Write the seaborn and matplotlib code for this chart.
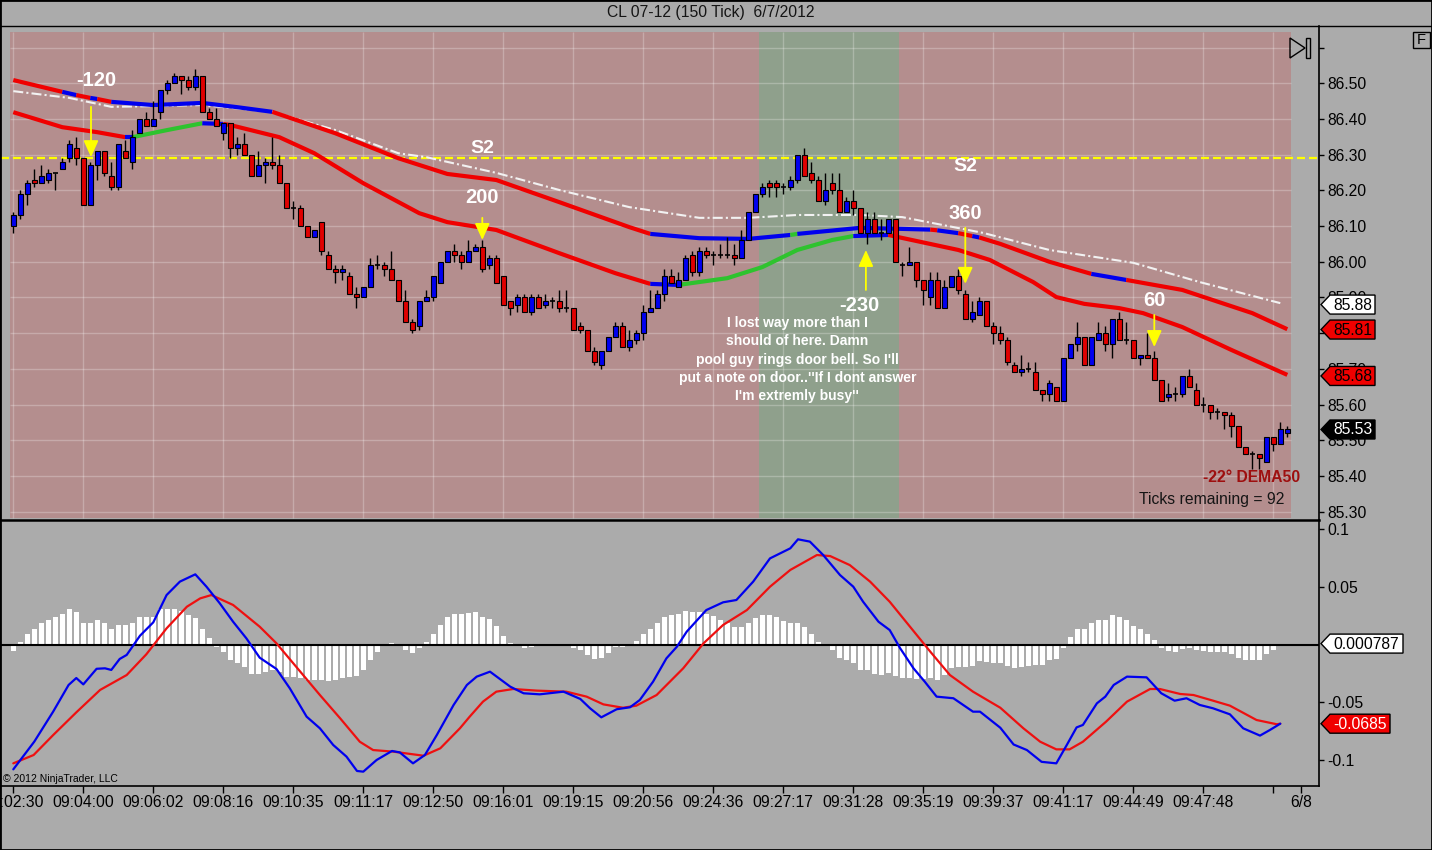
import numpy as np
import pandas as pd
import seaborn as sns
import matplotlib.pyplot as plt
import matplotlib.transforms as mtransforms
from matplotlib.patches import Polygon, Rectangle
from matplotlib.lines import Line2D

#%% Data: CL 07-12, 150 tick bars, 6/7/2012
open_ = [
    86.10, 86.13, 86.19, 86.23, 86.22, 86.23, 86.25, 86.26, 86.29, 86.32,
    86.29, 86.16, 86.27, 86.31, 86.24, 86.21, 86.31, 86.28, 86.36, 86.40,
    86.38, 86.42, 86.48, 86.50, 86.52, 86.51, 86.49, 86.52, 86.42, 86.40,
    86.36, 86.39, 86.32, 86.33, 86.30, 86.24, 86.27, 86.28, 86.27, 86.22,
    86.15, 86.15, 86.10, 86.07, 86.11, 86.02, 85.98, 85.97, 85.96, 85.91,
    85.90, 85.93, 85.99, 85.99, 85.98, 85.95, 85.89, 85.83, 85.82, 85.89,
    85.90, 85.94, 86.00, 86.03, 86.02, 86.00, 86.03, 86.04, 85.99, 86.01,
    85.96, 85.89, 85.88, 85.90, 85.86, 85.90, 85.88, 85.89, 85.89, 85.87,
    85.87, 85.82, 85.81, 85.75, 85.71, 85.75, 85.79, 85.82, 85.76, 85.78,
    85.80, 85.86, 85.87, 85.91, 85.96, 85.93, 85.95, 86.02, 85.97, 86.03,
    86.02, 86.02, 86.02, 86.02, 86.01, 86.06, 86.14, 86.19, 86.22, 86.22,
    86.21, 86.21, 86.23, 86.30, 86.25, 86.23, 86.17, 86.22, 86.20, 86.14,
    86.17, 86.15, 86.08, 86.12, 86.08, 86.08, 86.12, 85.99, 85.99, 86.00,
    85.95, 85.90, 85.95, 85.87, 85.93, 85.96, 85.91, 85.84, 85.85, 85.89,
    85.82, 85.80, 85.78, 85.71, 85.69, 85.70, 85.69, 85.64, 85.63, 85.65,
    85.61, 85.73, 85.77, 85.79, 85.71, 85.78, 85.80, 85.77, 85.84, 85.78,
    85.78, 85.73, 85.74, 85.73, 85.67, 85.62, 85.63, 85.63, 85.68, 85.64,
    85.60, 85.60, 85.58, 85.58, 85.57, 85.54, 85.48, 85.46, 85.46, 85.44,
    85.51, 85.49, 85.52]
high = [
    86.14, 86.20, 86.23, 86.26, 86.27, 86.26, 86.25, 86.29, 86.34, 86.35,
    86.29, 86.28, 86.31, 86.31, 86.28, 86.33, 86.34, 86.37, 86.40, 86.42,
    86.45, 86.48, 86.51, 86.53, 86.52, 86.52, 86.54, 86.52, 86.43, 86.43,
    86.39, 86.39, 86.35, 86.36, 86.30, 86.31, 86.29, 86.35, 86.30, 86.22,
    86.17, 86.16, 86.10, 86.09, 86.11, 86.03, 85.99, 85.99, 85.97, 85.93,
    85.93, 86.01, 86.02, 86.00, 86.03, 85.95, 85.92, 85.84, 85.89, 85.92,
    85.96, 86.00, 86.03, 86.05, 86.03, 86.06, 86.05, 86.06, 86.02, 86.02,
    85.96, 85.89, 85.91, 85.91, 85.91, 85.91, 85.91, 85.90, 85.92, 85.92,
    85.87, 85.83, 85.81, 85.76, 85.75, 85.79, 85.83, 85.83, 85.81, 85.81,
    85.88, 85.92, 85.92, 85.98, 85.98, 85.97, 86.02, 86.03, 86.04, 86.04,
    86.03, 86.05, 86.07, 86.05, 86.09, 86.14, 86.19, 86.22, 86.23, 86.23,
    86.22, 86.24, 86.30, 86.32, 86.28, 86.24, 86.25, 86.25, 86.25, 86.18,
    86.20, 86.15, 86.14, 86.14, 86.12, 86.12, 86.12, 86.00, 86.04, 86.00,
    85.95, 85.97, 85.97, 85.95, 85.96, 85.98, 85.92, 85.89, 85.90, 85.89,
    85.83, 85.82, 85.79, 85.72, 85.74, 85.72, 85.72, 85.64, 85.67, 85.65,
    85.73, 85.77, 85.83, 85.79, 85.79, 85.83, 85.82, 85.84, 85.86, 85.83,
    85.78, 85.74, 85.80, 85.75, 85.67, 85.66, 85.65, 85.68, 85.70, 85.66,
    85.62, 85.60, 85.59, 85.58, 85.58, 85.54, 85.48, 85.47, 85.46, 85.51,
    85.51, 85.55, 85.54]
low = [
    86.08, 86.12, 86.16, 86.21, 86.22, 86.22, 86.20, 86.26, 86.28, 86.27,
    86.16, 86.16, 86.23, 86.24, 86.20, 86.20, 86.29, 86.26, 86.36, 86.38,
    86.38, 86.40, 86.47, 86.50, 86.47, 86.48, 86.48, 86.42, 86.40, 86.38,
    86.34, 86.29, 86.30, 86.30, 86.24, 86.24, 86.22, 86.26, 86.22, 86.15,
    86.12, 86.10, 86.07, 86.07, 86.02, 85.98, 85.94, 85.95, 85.91, 85.87,
    85.90, 85.93, 85.98, 85.96, 85.95, 85.89, 85.83, 85.80, 85.81, 85.89,
    85.89, 85.94, 86.00, 86.00, 85.98, 86.00, 86.03, 85.97, 85.98, 85.94,
    85.88, 85.85, 85.86, 85.86, 85.85, 85.87, 85.87, 85.87, 85.86, 85.86,
    85.81, 85.80, 85.75, 85.71, 85.70, 85.75, 85.79, 85.76, 85.75, 85.77,
    85.78, 85.86, 85.87, 85.89, 85.94, 85.93, 85.95, 85.96, 85.96, 86.01,
    85.99, 86.01, 86.01, 85.99, 86.01, 86.06, 86.14, 86.18, 86.18, 86.18,
    86.19, 86.20, 86.22, 86.24, 86.22, 86.17, 86.16, 86.19, 86.14, 86.14,
    86.13, 86.08, 86.05, 86.08, 86.06, 86.08, 86.00, 85.96, 85.99, 85.93,
    85.88, 85.88, 85.87, 85.87, 85.93, 85.91, 85.84, 85.83, 85.85, 85.82,
    85.77, 85.77, 85.71, 85.69, 85.68, 85.69, 85.64, 85.61, 85.61, 85.61,
    85.61, 85.73, 85.75, 85.71, 85.71, 85.78, 85.75, 85.73, 85.78, 85.77,
    85.73, 85.71, 85.73, 85.67, 85.61, 85.61, 85.61, 85.62, 85.65, 85.60,
    85.58, 85.56, 85.56, 85.53, 85.51, 85.48, 85.46, 85.42, 85.42, 85.44,
    85.47, 85.49, 85.51]
close = [
    86.13, 86.19, 86.22, 86.22, 86.24, 86.25, 86.25, 86.28, 86.33, 86.29,
    86.16, 86.27, 86.31, 86.25, 86.21, 86.33, 86.29, 86.35, 86.40, 86.38,
    86.40, 86.48, 86.50, 86.52, 86.51, 86.49, 86.52, 86.42, 86.40, 86.38,
    86.39, 86.32, 86.33, 86.30, 86.24, 86.27, 86.28, 86.27, 86.22, 86.15,
    86.15, 86.10, 86.07, 86.09, 86.03, 85.98, 85.97, 85.98, 85.91, 85.90,
    85.93, 85.99, 85.99, 85.98, 85.95, 85.89, 85.83, 85.81, 85.89, 85.90,
    85.96, 86.00, 86.03, 86.02, 86.00, 86.03, 86.04, 85.98, 86.01, 85.94,
    85.88, 85.87, 85.90, 85.86, 85.90, 85.87, 85.89, 85.89, 85.87, 85.87,
    85.81, 85.81, 85.75, 85.72, 85.75, 85.79, 85.82, 85.76, 85.78, 85.80,
    85.86, 85.87, 85.91, 85.96, 85.94, 85.95, 86.01, 85.97, 86.03, 86.02,
    86.02, 86.02, 86.02, 86.01, 86.06, 86.14, 86.19, 86.21, 86.21, 86.21,
    86.21, 86.23, 86.30, 86.24, 86.23, 86.17, 86.20, 86.20, 86.14, 86.17,
    86.15, 86.08, 86.12, 86.08, 86.08, 86.12, 86.00, 85.99, 86.00, 85.95,
    85.92, 85.95, 85.87, 85.93, 85.96, 85.92, 85.84, 85.86, 85.89, 85.82,
    85.80, 85.78, 85.72, 85.69, 85.70, 85.70, 85.64, 85.63, 85.66, 85.61,
    85.73, 85.77, 85.79, 85.71, 85.79, 85.80, 85.77, 85.84, 85.78, 85.78,
    85.73, 85.74, 85.73, 85.67, 85.61, 85.63, 85.63, 85.68, 85.65, 85.60,
    85.60, 85.58, 85.58, 85.57, 85.54, 85.48, 85.46, 85.46, 85.45, 85.51,
    85.49, 85.53, 85.53]

# moving averages read at knots (bar index, price); colour of each following segment
dema_bar = [0, 7, 9, 11, 12, 14, 20, 27, 32, 37, 46, 55, 62, 69, 78, 88, 91, 98, 105, 111,
            112, 121, 131, 132, 135, 137, 138, 141, 148, 154, 159, 167, 177, 182]
dema_val = [86.509, 86.476, 86.467, 86.459, 86.456, 86.448, 86.439, 86.445, 86.433, 86.420,
            86.360, 86.290, 86.246, 86.229, 86.167, 86.097, 86.078, 86.066, 86.064, 86.075,
            86.078, 86.095, 86.090, 86.088, 86.080, 86.072, 86.068, 86.050, 86.000, 85.966,
            85.949, 85.921, 85.856, 85.811]
dema_col = ['r', 'b', 'r', 'b', 'r', 'b', 'b', 'b', 'b', 'r', 'r', 'r', 'r', 'r', 'r', 'r',
            'b', 'b', 'b', 'g', 'b', 'b', 'r', 'b', 'r', 'b', 'r', 'r', 'r', 'b', 'r', 'r', 'r']

ema_bar = [0, 7, 12, 16, 17, 22, 27, 30, 31, 38, 43, 50, 58, 62, 69, 78, 86, 91, 95, 102,
           107, 112, 117, 120, 125, 135, 139.5, 145.7, 149, 153, 158, 161.4, 167, 174, 182]
ema_val = [86.419, 86.377, 86.363, 86.349, 86.349, 86.369, 86.388, 86.386, 86.383, 86.349,
           86.304, 86.220, 86.136, 86.111, 86.089, 86.024, 85.968, 85.938, 85.935, 85.954,
           85.985, 86.033, 86.061, 86.072, 86.075, 86.033, 86.005, 85.943, 85.901, 85.882,
           85.870, 85.856, 85.817, 85.753, 85.683]
ema_col = ['r', 'r', 'r', 'b', 'g', 'g', 'b', 'r', 'r', 'r', 'r', 'r', 'r', 'r', 'r', 'r',
           'r', 'b', 'g', 'g', 'g', 'g', 'g', 'b', 'r', 'r', 'r', 'r', 'r', 'r', 'r', 'r',
           'r', 'r']

sma_bar = [0, 8, 14, 20, 27, 37, 46, 55, 59, 69, 78, 88, 98, 105, 112, 121, 127, 138.5,
           148, 160, 169.5, 181]
sma_val = [86.478, 86.459, 86.434, 86.436, 86.439, 86.420, 86.369, 86.304, 86.293, 86.249,
           86.201, 86.153, 86.123, 86.123, 86.131, 86.131, 86.125, 86.081, 86.033, 85.997,
           85.943, 85.884]

s2_level = 86.29

# bar background regions
bg_first = [0, 107, 127]
bg_last = [106, 126, 182]
bg_kind = ['pink', 'green', 'pink']

# MACD panel
hist = [
    -0.0058, 0.0023, 0.0089, 0.0138, 0.0182, 0.0216, 0.0239, 0.0260, 0.0303, 0.0283,
    0.0190, 0.0190, 0.0216, 0.0182, 0.0133, 0.0173, 0.0167, 0.0190, 0.0234, 0.0234,
    0.0234, 0.0303, 0.0311, 0.0303, 0.0291, 0.0254, 0.0225, 0.0133, 0.0052, -0.0020,
    -0.0063, -0.0136, -0.0159, -0.0193, -0.0251, -0.0257, -0.0236, -0.0222, -0.0236, -0.0280,
    -0.0285, -0.0294, -0.0309, -0.0303, -0.0309, -0.0317, -0.0309, -0.0294, -0.0280, -0.0271,
    -0.0222, -0.0136, -0.0069, -0.0012, 0.0012, 0.0003, -0.0049, -0.0072, -0.0029, 0.0023,
    0.0089, 0.0167, 0.0234, 0.0260, 0.0262, 0.0274, 0.0277, 0.0239, 0.0219, 0.0159,
    0.0075, 0.0012, 0.0006, -0.0026, -0.0020, -0.0017, -0.0012, -0.0003, -0.0003, 0.0006,
    -0.0029, -0.0049, -0.0092, -0.0127, -0.0115, -0.0072, -0.0023, -0.0020, 0.0002, 0.0029,
    0.0089, 0.0133, 0.0187, 0.0239, 0.0254, 0.0262, 0.0288, 0.0277, 0.0277, 0.0262,
    0.0245, 0.0216, 0.0182, 0.0153, 0.0153, 0.0190, 0.0225, 0.0254, 0.0254, 0.0239,
    0.0202, 0.0187, 0.0190, 0.0153, 0.0095, 0.0023, -0.0014, -0.0049, -0.0121, -0.0136,
    -0.0164, -0.0222, -0.0222, -0.0251, -0.0260, -0.0245, -0.0274, -0.0294, -0.0294, -0.0300,
    -0.0300, -0.0294, -0.0309, -0.0265, -0.0202, -0.0193, -0.0193, -0.0185, -0.0144, -0.0150,
    -0.0159, -0.0159, -0.0185, -0.0202, -0.0193, -0.0185, -0.0179, -0.0179, -0.0136, -0.0127,
    -0.0029, 0.0066, 0.0138, 0.0138, 0.0182, 0.0216, 0.0216, 0.0254, 0.0239, 0.0210,
    0.0159, 0.0133, 0.0095, 0.0043, -0.0029, -0.0058, -0.0063, -0.0040, -0.0029, -0.0049,
    -0.0058, -0.0069, -0.0069, -0.0069, -0.0078, -0.0121, -0.0130, -0.0136, -0.0136, -0.0078,
    -0.0049, 0.0006, 0.0008]

macd_bar = [0, 3, 5.7, 7.9, 9, 10, 11.9, 13.1, 14, 15.2, 16.2, 18.1, 20, 21.9, 23.8, 26,
            27.6, 29.5, 31.4, 33.3, 35.2, 37.6, 39.5, 41.9, 43.8, 45.7, 47.6, 49.1, 50, 51.9,
            54.1, 55.2, 57.1, 58.8, 60.5, 62.9, 64.8, 66.2, 68.1, 71, 72.9, 75.2, 78.6, 81,
            82.4, 84, 86.2, 88.1, 89.5, 91.4, 93.3, 94.8, 96.2, 99, 101.4, 103.3, 105.7,
            108.1, 111, 112.1, 113.8, 115.7, 118.1, 120, 121.4, 123.6, 125.2, 126.7, 128.6,
            130.2, 131.9, 134.3, 137.1, 138.1, 141, 142.9, 144.8, 146.9, 149, 150.5, 151.9,
            152.8, 154.8, 156, 157.2, 159.1, 161.9, 164, 165.9, 167.6, 169.5, 171.4, 173.8,
            175.7, 178.1, 179.5, 181]
macd_val = [-0.108, -0.084, -0.058, -0.035, -0.029, -0.0345, -0.021, -0.0206, -0.022, -0.0125,
            -0.009, 0.0076, 0.0192, 0.0428, 0.0544, 0.0607, 0.05, 0.0356, 0.0197, 0.0053,
            -0.0114, -0.0212, -0.0379, -0.0624, -0.0725, -0.0869, -0.097, -0.1094, -0.11, -0.0999,
            -0.0921, -0.0933, -0.1028, -0.0956, -0.0783, -0.0523, -0.035, -0.0278, -0.0235, -0.0365,
            -0.0422, -0.0431, -0.0408, -0.0471, -0.0552, -0.063, -0.056, -0.0543, -0.048, -0.0321,
            -0.012, -0.0019, 0.0111, 0.0298, 0.0365, 0.0385, 0.0544, 0.0745, 0.0832, 0.091,
            0.089, 0.0774, 0.0601, 0.05, 0.037, 0.0197, 0.0125, -0.0033, -0.0206, -0.0321,
            -0.0451, -0.0465, -0.0581, -0.0581, -0.072, -0.0865, -0.0913, -0.1015, -0.1028, -0.0869,
            -0.0717, -0.0696, -0.0509, -0.0451, -0.035, -0.0278, -0.0284, -0.0422, -0.0486, -0.0465,
            -0.0523, -0.0552, -0.0604, -0.0725, -0.0788, -0.074, -0.0685]
sig_bar = [0, 2.9, 5.7, 9, 12.4, 16.2, 19, 21.9, 24.8, 26.7, 28.3, 31.4, 35.2, 37.6, 41,
           43.8, 46.7, 49.5, 51.4, 54.3, 58.6, 61, 63.8, 65.2, 67.1, 69, 71.4, 74.8, 79, 81.9,
           84.3, 87.1, 89, 91.9, 95.7, 98.6, 101.4, 104.8, 108.1, 111, 114.8, 116.7, 119.5,
           122.4, 125.2, 128.1, 131, 133.8, 137.1, 141, 144.3, 146.7, 149, 150.9, 152.8, 156.1,
           159.1, 162.4, 163.8, 166.7, 168.6, 171.4, 173.8, 177.6, 180.5, 181]
sig_val = [-0.1028, -0.0956, -0.0783, -0.0587, -0.0393, -0.0264, -0.0085, 0.014, 0.0327, 0.0399,
           0.0428, 0.0342, 0.0154, 0.001, -0.0235, -0.0437, -0.0639, -0.0841, -0.0913, -0.0927,
           -0.0962, -0.0898, -0.0725, -0.0624, -0.0494, -0.0408, -0.0385, -0.0399, -0.0408, -0.0451,
           -0.0518, -0.0547, -0.0529, -0.0437, -0.0206, 0.001, 0.0169, 0.0298, 0.05, 0.0645,
           0.0774, 0.0765, 0.0687, 0.0544, 0.037, 0.0154, -0.0062, -0.0264, -0.0408, -0.0547,
           -0.0725, -0.0841, -0.0907, -0.0907, -0.0841, -0.0668, -0.0494, -0.0385, -0.0385, -0.0428,
           -0.0437, -0.0486, -0.0529, -0.0653, -0.069, -0.0685]

# time axis
time_bars = [0, 10, 20, 30, 40, 50, 60, 70, 80, 90, 100, 110, 120, 130, 140, 150, 160, 170, 180, 184]
time_labels = ['09:02:30', '09:04:00', '09:06:02', '09:08:16', '09:10:35', '09:11:17', '09:12:50',
               '09:16:01', '09:19:15', '09:20:56', '09:24:36', '09:27:17', '09:31:28', '09:35:19',
               '09:39:37', '09:41:17', '09:44:49', '09:47:48', '', '6/8']
price_ticks = [85.3, 85.4, 85.5, 85.6, 85.7, 85.8, 85.9, 86.0, 86.1, 86.2, 86.3, 86.4, 86.5, 86.6]
macd_ticks = [-0.1, -0.05, 0.05, 0.1]
macd_tick_labels = ['-0.1', '-0.05', '0.05', '0.1']

# trade notes drawn on the chart
ann_text = ['-120', '200', '360', '-230', '60']
ann_bar = [11.1, 67, 136, 121.8, 163]
ann_tail = [86.434, 86.123, 86.095, 85.921, 85.851]
ann_tip = [86.293, 86.061, 85.938, 86.033, 85.761]
ann_text_bar = [11.8, 67, 136, 120.8, 163]
ann_text_y = [86.509, 86.181, 86.134, 85.876, 85.890]
s2_text_bar = [67, 136]
s2_text_y = [86.316, 86.266]
note = ("I lost way more than I\nshould of here. Damn\npool guy rings door bell. So I'll\n"
        "put a note on door..''If I dont answer\nI'm extremly busy''")

#%% Style
sns.set_style('white')
plt.rcParams['font.family'] = ['Liberation Sans', 'DejaVu Sans']

W, H = 1432, 850
BG = '#ABABAB'
FS = 11.3
line_colors = {'r': '#F00000', 'b': '#0000EE', 'g': '#2EC32E'}
bg_colors = {'pink': '#B48E8E', 'green': '#8FA08C'}

fig = plt.figure(figsize=(W / 100, H / 100), dpi=100, facecolor=BG)
ax1 = fig.add_axes([1 / W, (H - 520) / H, 1318 / W, 494 / H])
ax2 = fig.add_axes([1 / W, (H - 786) / H, 1318 / W, 266 / H], sharex=ax1)
for ax in (ax1, ax2):
    ax.set_facecolor(BG)

df = pd.DataFrame({'open': open_, 'high': high, 'low': low, 'close': close})
df['bar'] = np.arange(len(df))

#%% Price panel
for a, b, k in zip(bg_first, bg_last, bg_kind):
    ax1.axvspan(a - 0.5, b + 0.5, ymin=0.004, ymax=0.988, color=bg_colors[k], lw=0, zorder=0.2)

ax1.vlines(np.arange(0, 181, 10), 85.282, 86.644, color='white', alpha=0.25, lw=1, zorder=0.5)
ax1.hlines(price_ticks, bg_first[0] - 0.5, bg_last[-1] + 0.5, color='white', alpha=0.25, lw=1, zorder=0.5)

ax1.axhline(s2_level, color='#FFFF00', lw=1.6, dashes=(3.6, 1.8), zorder=1.5)


def draw_runs(ax, xs, ys, cols, lw):
    # one seaborn line per run of equal colour
    start = 0
    for k in range(1, len(cols) + 1):
        if k == len(cols) or cols[k] != cols[start]:
            sns.lineplot(x=xs[start:k + 1], y=ys[start:k + 1], ax=ax, color=line_colors[cols[start]],
                         lw=lw, estimator=None, sort=False, legend=False, zorder=2.5,
                         solid_capstyle='butt')
            start = k


sns.lineplot(x=sma_bar, y=sma_val, ax=ax1, color='#F2F2F2', lw=1.5, estimator=None, sort=False,
             legend=False, zorder=2.4, linestyle=(0, (4.8, 1.5, 1, 1.5)))
draw_runs(ax1, ema_bar, ema_val, ema_col, 3.0)
draw_runs(ax1, dema_bar, dema_val, dema_col, 3.0)

# candles
up = df.close > df.open
dn = df.close < df.open
flat = df.close == df.open
ax1.vlines(df.bar, df.low, df.high, color='black', lw=1, zorder=3)
ax1.bar(df.bar[up], (df.close - df.open)[up], bottom=df.open[up], width=0.7,
        color='#0000F0', edgecolor='black', lw=0.8, zorder=4)
ax1.bar(df.bar[dn], (df.open - df.close)[dn], bottom=df.close[dn], width=0.7,
        color='#E00000', edgecolor='black', lw=0.8, zorder=4)
ax1.hlines(df.close[flat], df.bar[flat] - 0.36, df.bar[flat] + 0.36, color='black', lw=1.2, zorder=4)

# trade notes
for t, xb, y0, y1, tx, ty in zip(ann_text, ann_bar, ann_tail, ann_tip, ann_text_bar, ann_text_y):
    ax1.annotate('', xy=(xb, y1), xytext=(xb, y0), zorder=6,
                 arrowprops=dict(arrowstyle='-|>,head_length=1.0,head_width=0.45', color='#FFFF00',
                                 lw=1.3, shrinkA=0, shrinkB=0, mutation_scale=10))
    ax1.text(tx, ty, t, ha='center', va='center', color='white', fontsize=14.5,
             fontweight='bold', zorder=7)
for xb, yb in zip(s2_text_bar, s2_text_y):
    ax1.text(xb, yb, 'S2', ha='center', va='center', color='white', fontsize=14,
             fontweight='bold', zorder=7)
ax1.text(112, 85.726, note, ha='center', va='center', color='white', fontsize=10,
         fontweight='bold', linespacing=1.38, zorder=7)
ax1.text(0.9856, 0.0854, '-22° DEMA50', transform=ax1.transAxes, ha='right', va='center',
         color='#9E0F0F', fontsize=FS, fontweight='bold', zorder=7)
ax1.text(0.974, 0.0407, 'Ticks remaining = 92', transform=ax1.transAxes, ha='right', va='center',
         color='#151515', fontsize=FS, zorder=7)

ax1.set_xlim((1 - 13.3) / 7, (1319 - 13.3) / 7)
ax1.set_ylim(85.2764, 86.6605)
ax1.yaxis.tick_right()
ax1.set_yticks(price_ticks)
ax1.set_yticklabels(['%.2f' % p if p < 86.55 else '' for p in price_ticks])
ax1.tick_params(axis='y', right=True, left=False, direction='out', length=3.6, width=1,
                pad=2.5, labelsize=FS, colors='black')
ax1.tick_params(axis='x', bottom=False, labelbottom=False)
ax1.set_xlabel('')
ax1.set_ylabel('')

#%% MACD panel
ax2.bar(df.bar, hist, width=0.7, color='white', lw=0, zorder=2)
ax2.axhline(0, color='black', lw=1.5, zorder=2.2)
sns.lineplot(x=sig_bar, y=sig_val, ax=ax2, color='#EE1010', lw=1.6, estimator=None, sort=False,
             legend=False, zorder=3)
sns.lineplot(x=macd_bar, y=macd_val, ax=ax2, color='#0000EE', lw=1.6, estimator=None, sort=False,
             legend=False, zorder=3.1)
ax2.text(0.0015, 0.026, '© 2012 NinjaTrader, LLC', transform=ax2.transAxes, ha='left',
         va='center', fontsize=7.5, color='black', zorder=7)

ax2.set_ylim(-0.1224, 0.1077)
ax2.yaxis.tick_right()
ax2.set_yticks(macd_ticks)
ax2.set_yticklabels(macd_tick_labels)
ax2.tick_params(axis='y', right=True, left=False, direction='out', length=3.6, width=1,
                pad=2.5, labelsize=FS, colors='black')
ax2.set_xticks(time_bars)
ax2.set_xticklabels(time_labels)
ax2.tick_params(axis='x', bottom=True, direction='out', length=5, width=1, pad=1.5,
                labelsize=FS, colors='black')
ax2.set_xlabel('')
ax2.set_ylabel('')

for ax in (ax1, ax2):
    for s in ('left', 'top', 'bottom'):
        ax.spines[s].set_visible(False)
    ax.spines['right'].set_visible(True)
    ax.spines['right'].set_color('black')
    ax.spines['right'].set_linewidth(1.2)
ax2.spines['top'].set_visible(True)
ax2.spines['top'].set_color('black')
ax2.spines['top'].set_linewidth(1.8)
ax2.spines['bottom'].set_visible(True)
ax2.spines['bottom'].set_color('black')
ax2.spines['bottom'].set_linewidth(1.2)


#%% Value tags on the right axis
def value_tag(ax, yv, label, fc, tc, w):
    base = mtransforms.blended_transform_factory(ax.transAxes, ax.transData)
    trans = fig.dpi_scale_trans + mtransforms.ScaledTranslation(1, yv, base)
    h = 0.095
    r = 0.11 + w / 100
    ax.add_patch(Polygon([(0.02, 0), (0.11, h), (r, h), (r, -h), (0.11, -h)], closed=True,
                         transform=trans, fc=fc, ec='black', lw=1, clip_on=False, zorder=10))
    ax.text(0.11 + w / 200, -0.005, label, transform=trans, ha='center', va='center',
            color=tc, fontsize=FS, clip_on=False, zorder=11)


value_tag(ax1, 85.88, '85.88', 'white', 'black', 45)
value_tag(ax1, 85.81, '85.81', '#F00000', 'black', 45)
value_tag(ax1, 85.68, '85.68', '#F00000', 'black', 45)
value_tag(ax1, 85.53, '85.53', 'black', 'white', 45)
value_tag(ax2, 0.000787, '0.000787', 'white', 'black', 73)
value_tag(ax2, -0.0685, '-0.0685', '#F00000', 'white', 60)


#%% Window decorations
def fpx(x, y):
    return (x / W, 1 - y / H)


fig.text(711 / W, 1 - 13 / H, 'CL 07-12 (150 Tick)  6/7/2012', ha='center', va='center',
         fontsize=FS, color='#151515')
fig.add_artist(Line2D([0, 1], [1 - 26 / H] * 2, transform=fig.transFigure, color='black', lw=1))
fig.add_artist(Rectangle((0, 0), 1, 1, transform=fig.transFigure, fill=False, ec='black', lw=2))
fig.add_artist(Polygon([fpx(1290, 38), fpx(1290, 58), fpx(1305, 48)], closed=True,
                       transform=fig.transFigure, fill=False, ec='black', lw=1))
fig.add_artist(Rectangle(fpx(1306, 58), 4 / W, 20 / H, transform=fig.transFigure,
                         fill=False, ec='black', lw=1))
fig.add_artist(Rectangle(fpx(1413, 48), 17 / W, 16 / H, transform=fig.transFigure,
                         fill=False, ec='black', lw=1))
fig.text(1421.5 / W, 1 - 40 / H, 'F', ha='center', va='center', fontsize=10.5, color='black')

fig.savefig('out.png', dpi=100, facecolor=BG)
